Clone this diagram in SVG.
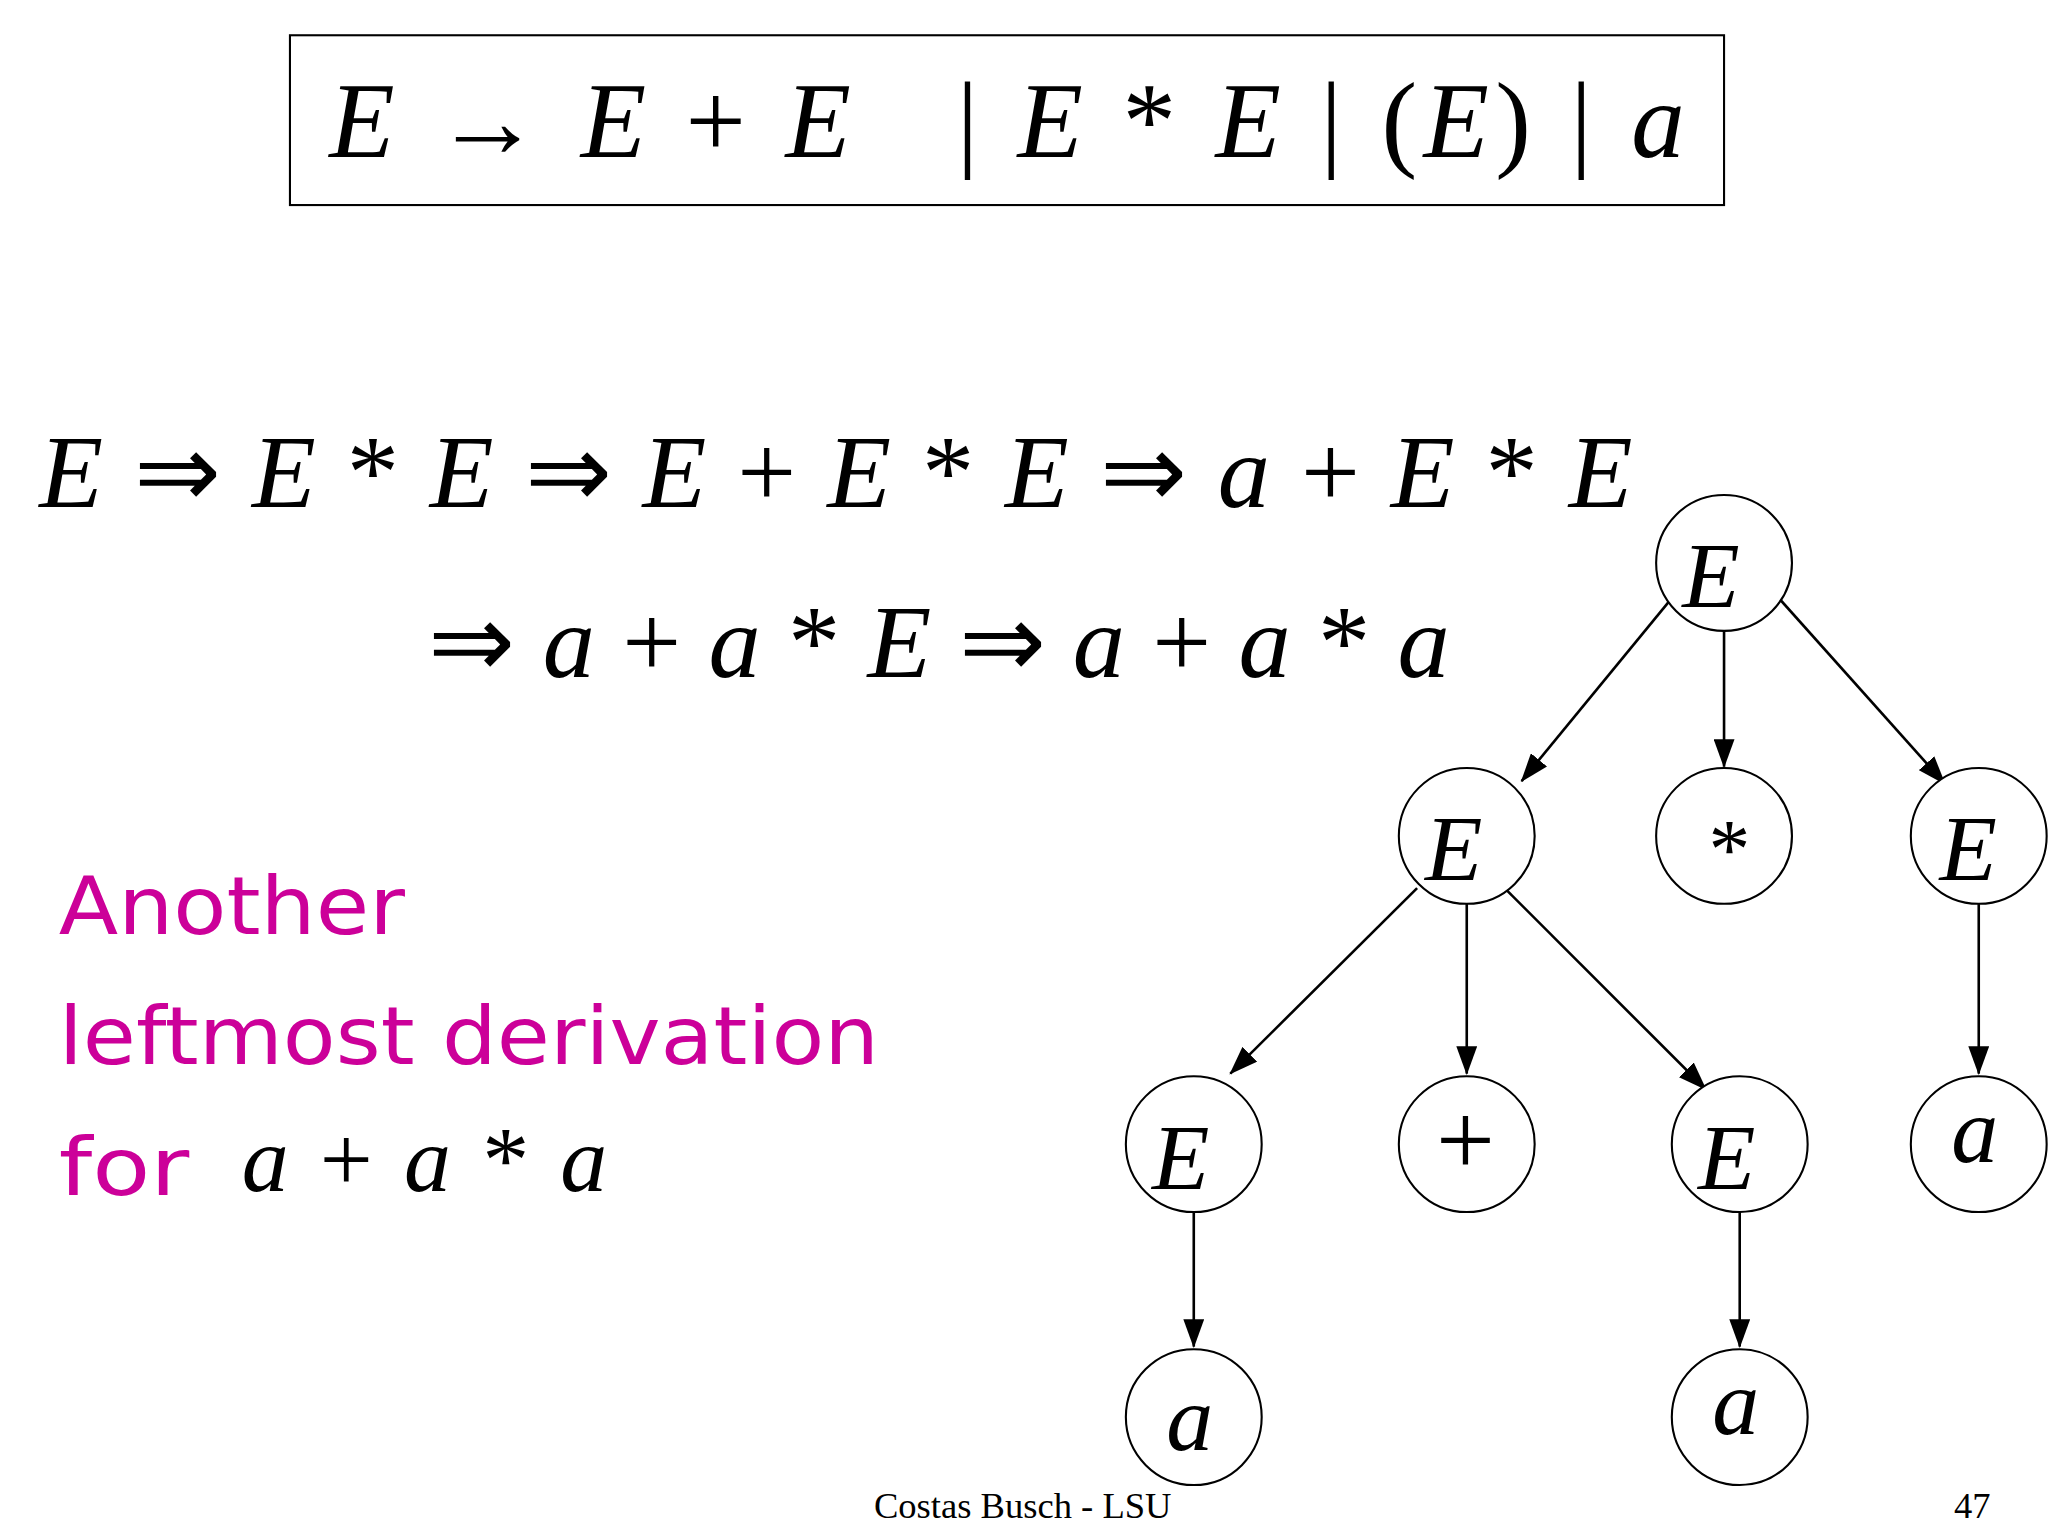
<svg xmlns="http://www.w3.org/2000/svg" width="2048" height="1536" viewBox="0 0 2048 1536">
<style>
.m{font-family:"Liberation Serif",serif;font-style:italic;fill:#000}
.r{font-family:"Liberation Serif",serif;fill:#000}
.u{font-style:normal}
.n{fill:#fff;stroke:#000;stroke-width:1.6}
.e{stroke:#000;stroke-width:2;fill:none;marker-end:url(#ah)}
.p{font-family:"DejaVu Sans",sans-serif;fill:#CC0099;font-size:62px}
.nl{font-family:"Liberation Serif",serif;font-style:italic;font-size:72px;text-anchor:middle}
</style>
<defs><marker id="ah" markerWidth="22" markerHeight="16" refX="21" refY="8" orient="auto" markerUnits="userSpaceOnUse"><path d="M0,0 L22,8 L0,16 z" fill="#000"/></marker></defs>
<rect width="2048" height="1536" fill="#fff"/>
<g transform="scale(1.3061)">
<g id="grammar">
<rect x="222" y="27" width="1098" height="130" fill="none" stroke="#000" stroke-width="1.6"/>
<text x="252" y="120" font-size="82" class="m" textLength="1038" lengthAdjust="spacing" xml:space="preserve">E <tspan class="u">→</tspan> E <tspan class="u">+</tspan> E   <tspan class="u">|</tspan> E <tspan class="u">*</tspan> E <tspan class="u">|</tspan> <tspan class="u">(</tspan>E<tspan class="u">)</tspan> <tspan class="u">|</tspan> a</text>
</g>
<g id="derivation">
<text x="30" y="388" font-size="80" class="m" textLength="1220" lengthAdjust="spacing" xml:space="preserve">E <tspan class="u">⇒</tspan> E <tspan class="u">*</tspan> E <tspan class="u">⇒</tspan> E <tspan class="u">+</tspan> E <tspan class="u">*</tspan> E <tspan class="u">⇒</tspan> a <tspan class="u">+</tspan> E <tspan class="u">*</tspan> E</text>
<text x="328" y="518" font-size="80" class="m" textLength="782" lengthAdjust="spacing" xml:space="preserve"><tspan class="u">⇒</tspan> a <tspan class="u">+</tspan> a <tspan class="u">*</tspan> E <tspan class="u">⇒</tspan> a <tspan class="u">+</tspan> a <tspan class="u">*</tspan> a</text>
</g>
<g id="caption">
<text x="45" y="715" class="p" textLength="265" lengthAdjust="spacingAndGlyphs">Another</text>
<text x="45" y="815" class="p" textLength="628" lengthAdjust="spacingAndGlyphs">leftmost derivation</text>
<text x="45" y="915" class="p" textLength="100" lengthAdjust="spacingAndGlyphs">for</text>
<text x="185" y="912" font-size="72" class="m" textLength="280" lengthAdjust="spacing" xml:space="preserve">a <tspan class="u">+</tspan> a <tspan class="u">*</tspan> a</text>
</g>
<g id="connectors">
<line class="e" x1="1280" y1="458" x2="1165" y2="598"/>
<line class="e" x1="1320" y1="483" x2="1320" y2="587"/>
<line class="e" x1="1362" y1="458" x2="1489" y2="600"/>
<line class="e" x1="1085" y1="680" x2="942" y2="822"/>
<line class="e" x1="1123" y1="692" x2="1123" y2="822"/>
<line class="e" x1="1152" y1="680" x2="1306" y2="834"/>
<line class="e" x1="1515" y1="692" x2="1515" y2="822"/>
<line class="e" x1="914" y1="928" x2="914" y2="1031"/>
<line class="e" x1="1332" y1="928" x2="1332" y2="1031"/>
</g>
<g id="n1"><circle class="n" cx="1320" cy="431" r="52"/><text class="nl" x="1310" y="465">E</text></g>
<g id="n2"><circle class="n" cx="1123" cy="640" r="52"/><text class="nl" x="1113" y="674">E</text></g>
<g id="n3"><circle class="n" cx="1320" cy="640" r="52"/><text class="r" font-size="64" text-anchor="middle" x="1324" y="672">*</text></g>
<g id="n4"><circle class="n" cx="1515" cy="640" r="52"/><text class="nl" x="1507" y="674">E</text></g>
<g id="n5"><circle class="n" cx="914" cy="876" r="52"/><text class="nl" x="904" y="910">E</text></g>
<g id="n6"><circle class="n" cx="1123" cy="876" r="52"/><text class="r" font-size="80" text-anchor="middle" x="1122" y="900">+</text></g>
<g id="n7"><circle class="n" cx="1332" cy="876" r="52"/><text class="nl" x="1322" y="910">E</text></g>
<g id="n8"><circle class="n" cx="1515" cy="876" r="52"/><text class="nl" x="1512" y="890">a</text></g>
<g id="n9"><circle class="n" cx="914" cy="1085" r="52"/><text class="nl" x="911" y="1110">a</text></g>
<g id="n10"><circle class="n" cx="1332" cy="1085" r="52"/><text class="nl" x="1329" y="1098">a</text></g>
<g id="footer">
<text x="783" y="1162" font-size="28" class="r" text-anchor="middle">Costas Busch - LSU</text>
<text x="1510" y="1162" font-size="28" class="r" text-anchor="middle">47</text>
</g>
</g>
</svg>
